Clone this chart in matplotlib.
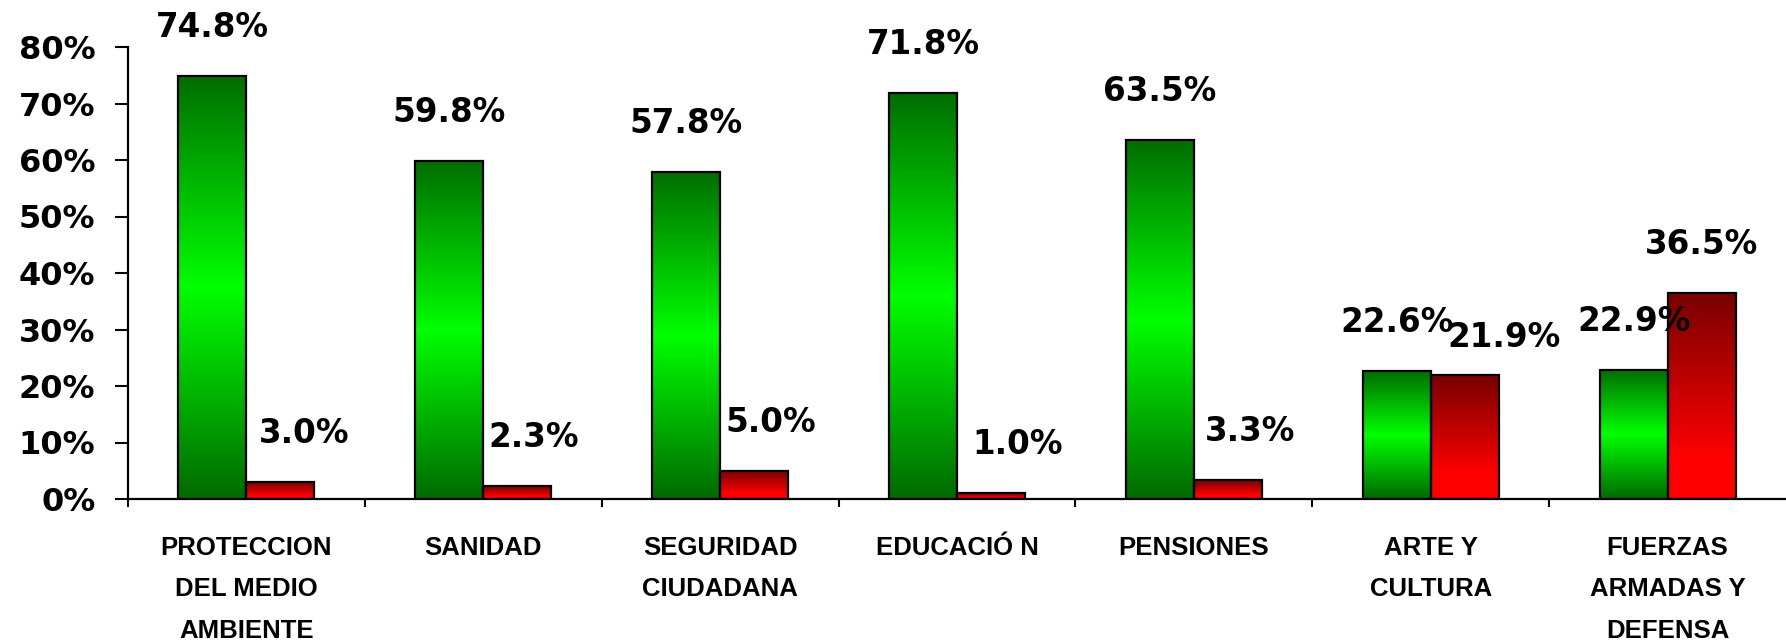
import numpy as np
import matplotlib
matplotlib.use("Agg")
import matplotlib.pyplot as plt
from matplotlib.colors import LinearSegmentedColormap

# data
categories = ["PROTECCION\nDEL MEDIO\nAMBIENTE", "SANIDAD", "SEGURIDAD\nCIUDADANA",
              "EDUCACIÓ N", "PENSIONES", "ARTE Y\nCULTURA", "FUERZAS\nARMADAS Y\nDEFENSA"]
green_vals = [74.8, 59.8, 57.8, 71.8, 63.5, 22.6, 22.9]
red_vals = [3.0, 2.3, 5.0, 1.0, 3.3, 21.9, 36.5]
yticks = [0, 10, 20, 30, 40, 50, 60, 70, 80]

# small label nudges (pixels) for the red series labels
red_dx = [24, 16, 17, 27, 22, 39, 0]
red_dy = [0, 0, 0, 0, 0, -11, 0]

green_cmap = LinearSegmentedColormap.from_list(
    "g", [(0, "#006e00"), (0.5, "#00ff00"), (1, "#006a00")])
red_cmap = LinearSegmentedColormap.from_list(
    "r", [(0, "#780000"), (0.8, "#ff0000"), (1, "#ff0000")])

fig = plt.figure(figsize=(17.86, 6.4), dpi=100)
ax = fig.add_axes([128 / 1786, 1 - 499 / 640, 1 - 128 / 1786, (499 - 47) / 640])

x = np.arange(len(categories))
w = 0.287
grad = np.linspace(0, 1, 256).reshape(-1, 1)

def gradient_bars(xpos, vals, cmap):
    bars = ax.bar(xpos, vals, w, facecolor="none", edgecolor="black",
                  linewidth=1.6, zorder=3)
    for b in bars:
        im = ax.imshow(grad, cmap=cmap, aspect="auto", origin="upper",
                       extent=[b.get_x(), b.get_x() + b.get_width(), 0, b.get_height()],
                       zorder=2, interpolation="bilinear")
        im.set_clip_path(b)
    return bars

gradient_bars(x - w / 2, green_vals, green_cmap)
gradient_bars(x + w / 2, red_vals, red_cmap)

vfont = dict(family="DejaVu Sans", weight="bold", size=23.5)
for i in range(len(categories)):
    ax.annotate(f"{green_vals[i]:.1f}%", (x[i] - w / 2, green_vals[i]),
                xytext=(0, 35), textcoords="offset points",
                ha="center", va="center", clip_on=False, **vfont)
    ax.annotate(f"{red_vals[i]:.1f}%", (x[i] + w / 2, red_vals[i]),
                xytext=(red_dx[i] * 0.72, 35 + red_dy[i] * 0.72), textcoords="offset points",
                ha="center", va="center", clip_on=False, zorder=4, **vfont)

ax.set_xlim(-0.5, len(categories) - 0.5)
ax.set_ylim(0, 80)
ax.set_yticks(yticks)
ax.set_yticklabels([f"{t}%" for t in yticks], fontfamily="DejaVu Sans",
                   fontweight="bold", fontsize=23)
ax.tick_params(axis="y", length=9.5, width=1.5, pad=14)

ax.set_xticks(np.arange(len(categories)) - 0.5)
ax.set_xticklabels([])
ax.tick_params(axis="x", which="major", length=6, width=1.5, direction="out")
ax.set_xticks(x, minor=True)
ax.set_xticklabels(categories, minor=True, fontfamily="Liberation Sans",
                   fontweight="bold", fontsize=18.5, linespacing=1.93, va="top")
ax.tick_params(axis="x", which="minor", length=0, pad=26.5)

for s in ["top", "right"]:
    ax.spines[s].set_visible(False)
for s in ["left", "bottom"]:
    ax.spines[s].set_linewidth(1.6)

fig.savefig("out.png", dpi=100)
